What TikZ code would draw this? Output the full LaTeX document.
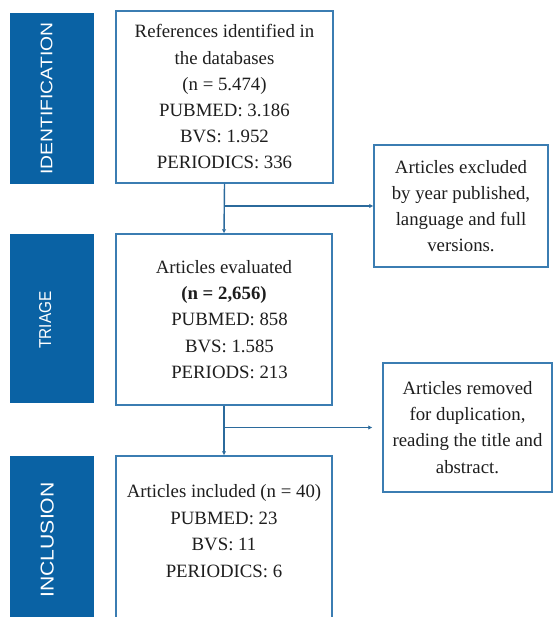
\documentclass[tikz,border=0pt]{standalone}
\usepackage{fontspec}
\setmainfont{Liberation Serif}
\newfontfamily\bandfont{Liberation Sans}
\usetikzlibrary{arrows.meta}
\definecolor{bandblue}{HTML}{0A62A4}
\definecolor{edgeblue}{HTML}{3B7DB2}
\definecolor{linkblue}{HTML}{2B6A9C}
\definecolor{ink}{HTML}{1E1E1E}
\begin{document}
\begin{tikzpicture}[x=1pt,y=-1pt,
  band/.style={fill=bandblue, inner sep=0pt, minimum width=84pt},
  bandtext/.style={text=white, font=\bandfont, rotate=90, inner sep=0pt},
  stepbox/.style={draw=edgeblue, line width=1.4pt, fill=white, align=center, text=ink,
    font=\fontsize{18.8}{26.2}\selectfont, inner sep=0pt},
  boxtext/.style={align=center, text=ink, font=\fontsize{18.8}{26.6}\selectfont, inner sep=0pt},
  link/.style={draw=linkblue, line width=1.4pt, -{Latex[length=4pt,width=4.5pt]}}
]
\useasboundingbox (0,0) rectangle (553,617);
\clip (0,0) rectangle (553,617);

% side bands
\node[band, minimum height=171pt] (b1) at (52,98.5) {};
\node[bandtext] (t1) at (46.7,98.5) {\fontsize{16.8}{20}\selectfont\scalebox{1.15}[1]{IDENTIFICATION}};
\node[band, minimum height=169pt] (b2) at (51.5,318.5) {};
\node[bandtext] (t2) at (45.3,320) {\fontsize{17.2}{20}\selectfont\scalebox{0.89}[1]{TRIAGE}};
\node[band, minimum height=169pt] (b3) at (51.5,540.5) {};
\node[bandtext] (t3) at (47.2,540) {\fontsize{18.6}{22}\selectfont\scalebox{1.14}[1]{INCLUSION}};

% main boxes
\node[stepbox, minimum width=217pt, minimum height=172pt] (r1) at (224.5,97)
  {References identified in\\the databases\\(n = 5.474)\\PUBMED: 3.186\\BVS: 1.952\\PERIODICS: 336};
\node[stepbox, minimum width=216pt, minimum height=171pt] (r2) at (224,319.5)
  {Articles evaluated\\\textbf{(n = 2,656)}\\\hspace*{11pt}PUBMED: 858\\\hspace*{11pt}BVS: 1.585\\\hspace*{11pt}PERIODS: 213};
\node[stepbox, minimum width=216pt, minimum height=169pt] (r3) at (224,540.5) {};
\node[boxtext] (r3t) at (224,531)
  {Articles included (n = 40)\\PUBMED: 23\\BVS: 11\\PERIODICS: 6};

% side boxes
\node[stepbox, minimum width=174pt, minimum height=122pt] (ex) at (461,206)
  {Articles excluded\\by year published,\\language and full\\versions.};
\node[stepbox, minimum width=169pt, minimum height=129pt] (rm) at (467.5,427.5)
  {Articles removed\\for duplication,\\reading the title and\\abstract.};

% connectors
\coordinate (j1) at (r1.south |- ex.west);
\coordinate (j2) at (r2.south |- rm.west);
\draw[link] (r1.south) -- (r2.north);
\draw[link] (j1) -- (ex.west);
\draw[link] (r2.south) -- (r3.north);
\draw[link, shorten >=10pt] (j2) -- (rm.west);
\end{tikzpicture}
\end{document}
